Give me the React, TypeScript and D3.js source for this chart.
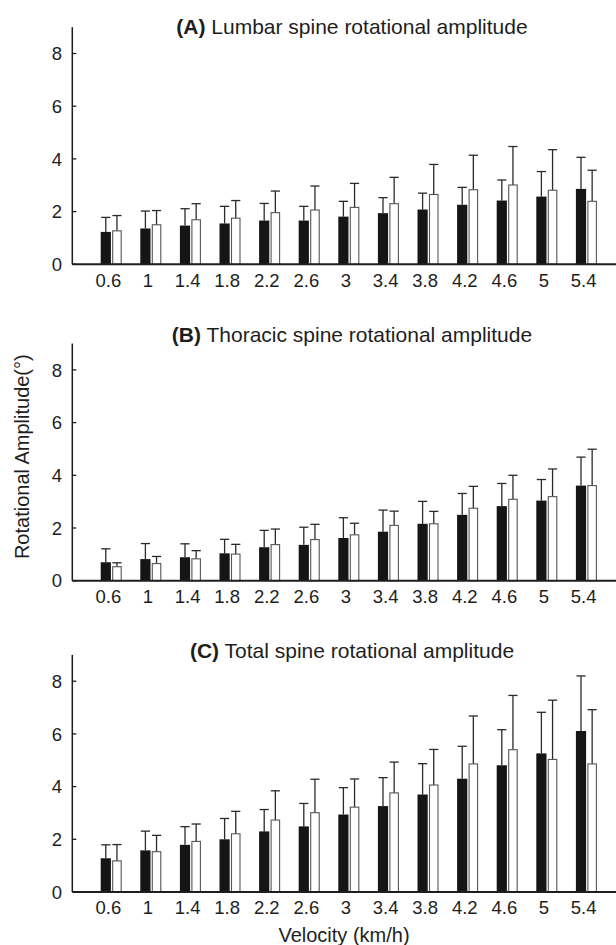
import React, { useEffect, useRef } from 'react';
import * as d3 from 'd3';

// walking velocities (km/h)
const velocities = ['0.6', '1', '1.4', '1.8', '2.2', '2.6', '3', '3.4', '3.8', '4.2', '4.6', '5', '5.4'];
const yTicks = [0, 2, 4, 6, 8];

// (A) lumbar
const lumbarBlackMean = [1.23, 1.36, 1.47, 1.55, 1.66, 1.66, 1.81, 1.94, 2.08, 2.26, 2.42, 2.57, 2.86];
const lumbarBlackSd = [0.55, 0.66, 0.64, 0.65, 0.65, 0.54, 0.58, 0.59, 0.62, 0.66, 0.78, 0.95, 1.2];
const lumbarWhiteMean = [1.27, 1.5, 1.69, 1.75, 1.96, 2.06, 2.16, 2.3, 2.65, 2.83, 3.01, 2.81, 2.39];
const lumbarWhiteSd = [0.58, 0.54, 0.61, 0.67, 0.82, 0.91, 0.91, 1.0, 1.14, 1.31, 1.46, 1.54, 1.18];

// (B) thoracic
const thoracicBlackMean = [0.7, 0.82, 0.89, 1.04, 1.27, 1.36, 1.62, 1.86, 2.16, 2.5, 2.83, 3.04, 3.61];
const thoracicBlackSd = [0.51, 0.59, 0.51, 0.53, 0.64, 0.67, 0.77, 0.82, 0.85, 0.81, 0.86, 0.8, 1.08];
const thoracicWhiteMean = [0.53, 0.65, 0.83, 1.01, 1.37, 1.56, 1.74, 2.1, 2.16, 2.75, 3.09, 3.19, 3.61];
const thoracicWhiteSd = [0.15, 0.27, 0.31, 0.37, 0.59, 0.58, 0.44, 0.54, 0.47, 0.83, 0.91, 1.05, 1.38];

// (C) total
const totalBlackMean = [1.28, 1.58, 1.79, 2.0, 2.3, 2.49, 2.94, 3.26, 3.7, 4.3, 4.81, 5.26, 6.11];
const totalBlackSd = [0.51, 0.73, 0.69, 0.79, 0.83, 0.87, 1.02, 1.08, 1.17, 1.23, 1.35, 1.56, 2.09];
const totalWhiteMean = [1.18, 1.53, 1.92, 2.21, 2.73, 3.01, 3.22, 3.76, 4.06, 4.86, 5.4, 5.03, 4.86];
const totalWhiteSd = [0.62, 0.62, 0.66, 0.85, 1.11, 1.27, 1.07, 1.17, 1.35, 1.82, 2.06, 2.25, 2.06];

const panels = [
  { tag: '(A)', title: 'Lumbar spine rotational amplitude', zero: 264.3, titleY: 34.3,
    black: lumbarBlackMean, blackSd: lumbarBlackSd, white: lumbarWhiteMean, whiteSd: lumbarWhiteSd },
  { tag: '(B)', title: 'Thoracic spine rotational amplitude', zero: 580.7, titleY: 341.7,
    black: thoracicBlackMean, blackSd: thoracicBlackSd, white: thoracicWhiteMean, whiteSd: thoracicWhiteSd },
  { tag: '(C)', title: 'Total spine rotational amplitude', zero: 892, titleY: 658,
    black: totalBlackMean, blackSd: totalBlackSd, white: totalWhiteMean, whiteSd: totalWhiteSd },
];

const font = '"Liberation Sans", Arial, Helvetica, sans-serif';
const ink = '#1e1e1e';

export default function App() {
  const ref = useRef<SVGSVGElement>(null);

  useEffect(() => {
    const svg = d3.select(ref.current);
    svg.selectAll('*').remove();

    const axisX = 72.3;
    const step = 39.6;
    const x = d3.scaleLinear().domain([0, 14]).range([axisX, axisX + 14 * step]);
    const unit = 26.35;

    panels.forEach(p => {
      const y = d3.scaleLinear().domain([0, 9]).range([p.zero, p.zero - 9 * unit]);
      const g = svg.append('g');

      // error bars, upper half only
      const drawErr = (means: number[], sds: number[], dx: number) => {
        const eg = g.append('g').attr('stroke', '#2a2a2a').attr('stroke-width', 1.3);
        eg.selectAll('line.v')
          .data(means)
          .join('line')
          .attr('x1', (d, i) => x(i + 1) + dx)
          .attr('x2', (d, i) => x(i + 1) + dx)
          .attr('y1', d => y(d))
          .attr('y2', (d, i) => y(d + sds[i]));
        eg.selectAll('line.c')
          .data(means)
          .join('line')
          .attr('x1', (d, i) => x(i + 1) + dx - 4.6)
          .attr('x2', (d, i) => x(i + 1) + dx + 4.6)
          .attr('y1', (d, i) => y(d + sds[i]))
          .attr('y2', (d, i) => y(d + sds[i]));
      };
      drawErr(p.black, p.blackSd, -6.1);
      drawErr(p.white, p.whiteSd, 5.05);

      g.append('g')
        .selectAll('rect')
        .data(p.black)
        .join('rect')
        .attr('x', (d, i) => x(i + 1) - 11.2)
        .attr('width', 10.2)
        .attr('y', d => y(d))
        .attr('height', d => y(0) - y(d))
        .attr('fill', '#151515');

      g.append('g')
        .selectAll('rect')
        .data(p.white)
        .join('rect')
        .attr('x', (d, i) => x(i + 1) + 0.8)
        .attr('width', 8.5)
        .attr('y', d => y(d))
        .attr('height', d => y(0) - y(d))
        .attr('fill', '#fff')
        .attr('stroke', '#555')
        .attr('stroke-width', 1.1);

      // axes
      g.append('line')
        .attr('x1', axisX).attr('x2', axisX)
        .attr('y1', y(0)).attr('y2', y(9))
        .attr('stroke', ink).attr('stroke-width', 1.5);
      g.append('line')
        .attr('x1', axisX).attr('x2', 616)
        .attr('y1', y(0)).attr('y2', y(0))
        .attr('stroke', ink).attr('stroke-width', 2);

      g.selectAll('line.tick')
        .data(yTicks)
        .join('line')
        .attr('x1', axisX).attr('x2', axisX + 4)
        .attr('y1', d => y(d)).attr('y2', d => y(d))
        .attr('stroke', ink).attr('stroke-width', 1.3);

      g.append('g')
        .selectAll('text')
        .data(yTicks)
        .join('text')
        .attr('x', 62)
        .attr('y', d => y(d))
        .attr('dy', '0.36em')
        .attr('text-anchor', 'end')
        .attr('font-family', font)
        .attr('font-size', 18.5)
        .attr('fill', ink)
        .text(d => d);

      g.append('g')
        .selectAll('text')
        .data(velocities)
        .join('text')
        .attr('x', (d, i) => x(i + 1) - 3.5)
        .attr('y', y(0) + 22.4)
        .attr('text-anchor', 'middle')
        .attr('font-family', font)
        .attr('font-size', 18.5)
        .attr('fill', ink)
        .text(d => d);

      const t = g.append('text')
        .attr('x', 352)
        .attr('y', p.titleY)
        .attr('text-anchor', 'middle')
        .attr('font-family', font)
        .attr('font-size', 21)
        .attr('fill', ink);
      t.append('tspan').attr('font-weight', 'bold').text(p.tag);
      t.append('tspan').text(' ' + p.title);
    });

    svg.append('text')
      .attr('transform', 'translate(29,456.7) rotate(-90)')
      .attr('text-anchor', 'middle')
      .attr('font-family', font)
      .attr('font-size', 20)
      .attr('fill', ink)
      .text('Rotational Amplitude(°)');

    svg.append('text')
      .attr('x', 344)
      .attr('y', 941.7)
      .attr('text-anchor', 'middle')
      .attr('font-family', font)
      .attr('font-size', 20)
      .attr('fill', ink)
      .text('Velocity (km/h)');
  }, []);

  return (
    <svg
      ref={ref}
      width={616}
      height={945}
      style={{ position: 'absolute', left: 0, top: 0, background: '#fff' }}
    />
  );
}
